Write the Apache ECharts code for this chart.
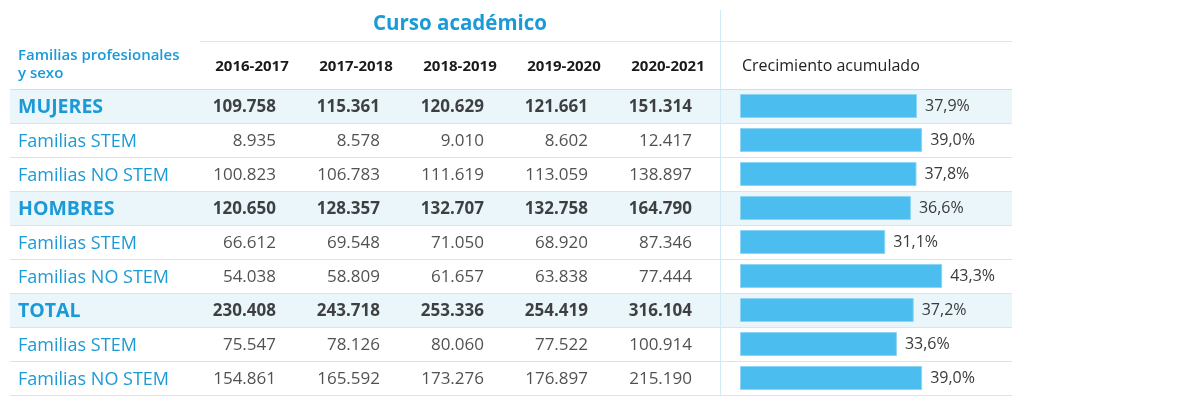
<!DOCTYPE html>
<html>
<head>
<meta charset="utf-8">
<script src="https://cdn.jsdelivr.net/npm/echarts@6/dist/echarts.min.js"></script>
<style>
  html, body { margin: 0; padding: 0; background: #fff; }
  #chart { width: 1180px; height: 405px; }
</style>
</head>
<body>
<div id="chart"></div>
<script>
const years = ['2016-2017', '2017-2018', '2018-2019', '2019-2020', '2020-2021'];
const rowNames = ['MUJERES', 'Familias STEM', 'Familias NO STEM', 'HOMBRES', 'Familias STEM', 'Familias NO STEM', 'TOTAL', 'Familias STEM', 'Familias NO STEM'];
const totalRows = [0, 3, 6];

const mujeres = [109758, 115361, 120629, 121661, 151314];
const mujeresStem = [8935, 8578, 9010, 8602, 12417];
const mujeresNoStem = [100823, 106783, 111619, 113059, 138897];
const hombres = [120650, 128357, 132707, 132758, 164790];
const hombresStem = [66612, 69548, 71050, 68920, 87346];
const hombresNoStem = [54038, 58809, 61657, 63838, 77444];
const total = [230408, 243718, 253336, 254419, 316104];
const totalStem = [75547, 78126, 80060, 77522, 100914];
const totalNoStem = [154861, 165592, 173276, 176897, 215190];

const crecimiento = [37.9, 39.0, 37.8, 36.6, 31.1, 43.3, 37.2, 33.6, 39.0];

const tableRows = [mujeres, mujeresStem, mujeresNoStem, hombres, hombresStem, hombresNoStem, total, totalStem, totalNoStem];

const FONT = '"Open Sans", sans-serif';
const BLUE = '#1a9ad7';

const fmt = (n) => String(n).replace(/\B(?=(\d{3})+(?!\d))/g, '.');

const cells = [];
tableRows.forEach((row, r) => {
  row.forEach((v, c) => {
    const bold = totalRows.includes(r);
    cells.push({
      value: [c, r, v],
      label: {
        fontWeight: bold ? 'bold' : 'normal',
        color: bold ? '#111' : '#262626',
      },
    });
  });
});

const chart = echarts.init(document.getElementById('chart'));

chart.setOption({
  animation: false,
  textStyle: { fontFamily: FONT },
  title: [
    {
      text: 'Curso académico',
      left: 460,
      top: 14,
      padding: 0,
      textAlign: 'center',
      textStyle: { color: BLUE, fontSize: 20.5, fontWeight: 'bold', fontFamily: FONT },
    },
    {
      text: 'Familias profesionales\ny sexo',
      left: 18,
      top: 47,
      padding: 0,
      textStyle: { color: BLUE, fontSize: 15, fontWeight: 600, lineHeight: 18, fontFamily: FONT },
    },
    {
      text: 'Crecimiento acumulado',
      left: 742,
      top: 58,
      padding: 0,
      textStyle: { color: '#222', fontSize: 16, fontWeight: 500, fontFamily: FONT },
    },
  ],
  graphic: [
    {
      type: 'line',
      shape: { x1: 200, y1: 41.5, x2: 1012, y2: 41.5 },
      style: { stroke: '#d2e9f6', lineWidth: 1 },
      z: 10,
    },
    {
      type: 'line',
      shape: { x1: 720.5, y1: 10, x2: 720.5, y2: 395 },
      style: { stroke: '#d2e9f6', lineWidth: 1 },
      z: 10,
    },
  ],
  grid: [
    { left: 10, right: 168, top: 89, bottom: 10 },
    { left: 200, right: 460, top: 89, bottom: 10 },
    { left: 740, right: 206.5, top: 89, bottom: 10 },
  ],
  xAxis: [
    { gridIndex: 0, type: 'value', show: false },
    {
      gridIndex: 1,
      type: 'category',
      data: years,
      position: 'top',
      axisLine: { show: false },
      axisTick: { show: false },
      axisLabel: { color: '#1a1a1a', fontSize: 15, fontWeight: 'bold', margin: 15 },
    },
    { gridIndex: 2, type: 'value', min: 0, max: 50, show: false },
  ],
  yAxis: [
    {
      gridIndex: 0,
      type: 'category',
      data: rowNames,
      inverse: true,
      axisLine: { show: false },
      axisTick: { show: false },
      axisLabel: {
        inside: true,
        margin: 8,
        formatter: (v, i) => (totalRows.includes(i) ? '{b|' + v + '}' : '{r|' + v + '}'),
        rich: {
          b: { color: BLUE, fontSize: 19.5, fontWeight: 'bold', fontFamily: FONT, padding: [3, 0, 0, 0] },
          r: { color: BLUE, fontSize: 18, fontFamily: FONT, padding: [3, 0, 0, 0] },
        },
      },
      splitLine: {
        show: true,
        lineStyle: {
          color: ['#c6e2f4', '#e2e2e2', '#e2e2e2', '#e2e2e2', '#e2e2e2', '#e2e2e2', '#e2e2e2', '#e2e2e2', '#e2e2e2', '#e2e2e2'],
          width: 1,
        },
      },
      splitArea: {
        show: true,
        areaStyle: { color: ['#ebf6fb', '#ffffff', '#ffffff'] },
      },
    },
    { gridIndex: 1, type: 'category', data: rowNames, inverse: true, show: false },
    { gridIndex: 2, type: 'category', data: rowNames, inverse: true, show: false },
  ],
  series: [
    {
      type: 'scatter',
      xAxisIndex: 1,
      yAxisIndex: 1,
      symbolSize: 2,
      itemStyle: { color: 'rgba(0,0,0,0)' },
      data: cells,
      label: {
        show: true,
        position: 'inside',
        align: 'right',
        offset: [24, 1],
        fontSize: 17,
        fontFamily: FONT,
        formatter: (p) => fmt(p.value[2]),
      },
      z: 5,
    },
    {
      type: 'bar',
      xAxisIndex: 2,
      yAxisIndex: 2,
      data: crecimiento,
      barWidth: 24,
      itemStyle: { color: '#4bbdee', borderColor: '#8ed4f4', borderWidth: 1 },
      label: {
        show: true,
        position: 'right',
        distance: 8,
        color: '#3a3a3a',
        fontSize: 16,
        fontFamily: FONT,
        formatter: (p) => p.value.toFixed(1).replace('.', ',') + '%',
      },
      z: 5,
    },
  ],
});
</script>
</body>
</html>
